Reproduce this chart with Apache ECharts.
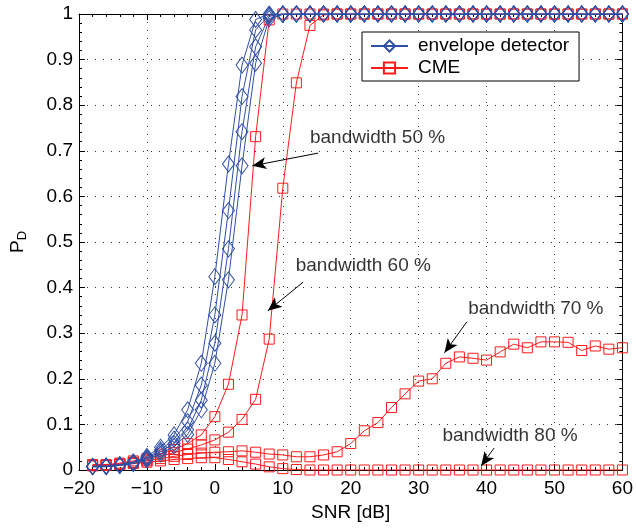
<!DOCTYPE html>
<html>
<head>
<meta charset="utf-8">
<script src="https://cdn.jsdelivr.net/npm/echarts@6/dist/echarts.min.js"></script>
<style>
  html, body { margin: 0; padding: 0; background: #fff; }
  #main { width: 636px; height: 529px; }
</style>
</head>
<body>
<div id="main"></div>
<script>
// SNR [dB] sample points
const snr = [-18, -16, -14, -12, -10, -8, -6, -4, -2, 0, 2, 4, 6, 8, 10, 12, 14, 16, 18, 20,
  22, 24, 26, 28, 30, 32, 34, 36, 38, 40, 42, 44, 46, 48, 50, 52, 54, 56, 58, 60];

// envelope detector, one curve per bandwidth
const env1 = [0.008, 0.009, 0.012, 0.018, 0.030, 0.050, 0.077, 0.132, 0.234, 0.424, 0.671, 0.888, 0.988, 1,
  1, 1, 1, 1, 1, 1, 1, 1, 1, 1, 1, 1, 1, 1, 1, 1, 1, 1, 1, 1, 1, 1, 1, 1, 1, 1];
const env2 = [0.008, 0.008, 0.011, 0.016, 0.027, 0.044, 0.068, 0.106, 0.186, 0.340, 0.569, 0.819, 0.965, 0.998,
  1, 1, 1, 1, 1, 1, 1, 1, 1, 1, 1, 1, 1, 1, 1, 1, 1, 1, 1, 1, 1, 1, 1, 1, 1, 1];
const env3 = [0.007, 0.008, 0.010, 0.015, 0.025, 0.040, 0.058, 0.088, 0.153, 0.278, 0.485, 0.742, 0.928, 0.995,
  1, 1, 1, 1, 1, 1, 1, 1, 1, 1, 1, 1, 1, 1, 1, 1, 1, 1, 1, 1, 1, 1, 1, 1, 1, 1];
const env4 = [0.007, 0.007, 0.010, 0.014, 0.022, 0.035, 0.052, 0.078, 0.132, 0.234, 0.417, 0.667, 0.892, 0.990,
  0.999, 1, 1, 1, 1, 1, 1, 1, 1, 1, 1, 1, 1, 1, 1, 1, 1, 1, 1, 1, 1, 1, 1, 1, 1, 1];

// CME, bandwidth 50 / 60 / 70 / 80 %
const cme50 = [0.012, 0.012, 0.015, 0.020, 0.025, 0.035, 0.045, 0.058, 0.077, 0.117, 0.188, 0.340, 0.731, 0.987,
  1, 1, 1, 1, 1, 1, 1, 1, 1, 1, 1, 1, 1, 1, 1, 1, 1, 1, 1, 1, 1, 1, 1, 1, 1, 1];
const cme60 = [0.010, 0.011, 0.013, 0.017, 0.022, 0.030, 0.038, 0.046, 0.055, 0.066, 0.083, 0.111, 0.155, 0.287,
  0.618, 0.849, 0.975, 0.998, 1, 1, 1, 1, 1, 1, 1, 1, 1, 1, 1, 1, 1, 1, 1, 1, 1, 1, 1, 1, 1, 1];
const cme70 = [0.010, 0.011, 0.013, 0.016, 0.020, 0.025, 0.030, 0.034, 0.037, 0.039,
  0.040, 0.042, 0.039, 0.035, 0.033, 0.029, 0.029, 0.033, 0.040, 0.058,
  0.086, 0.104, 0.137, 0.167, 0.195, 0.200, 0.234, 0.248, 0.245, 0.241,
  0.259, 0.276, 0.268, 0.281, 0.281, 0.280, 0.262, 0.272, 0.265, 0.268];
const cme80 = [0.009, 0.010, 0.012, 0.014, 0.017, 0.020, 0.023, 0.025, 0.027, 0.027, 0.023, 0.018, 0.013, 0.007,
  0.003, 0.001, 0, 0, 0, 0, 0, 0, 0, 0, 0, 0, 0, 0, 0, 0, 0, 0, 0, 0, 0, 0, 0, 0, 0, 0];

const noteTexts = ['bandwidth 50 %', 'bandwidth 60 %', 'bandwidth 70 %', 'bandwidth 80 %'];

const FONT = 'Liberation Sans, Arial, Helvetica, sans-serif';
const FS = 19;
const BLUE = '#2f4fa6';
const RED = '#ff1a1a';

function pairs(ys) {
  return snr.map((x, i) => [x, ys[i]]);
}

function envSeries(ys) {
  return {
    name: 'envelope detector',
    type: 'line',
    data: pairs(ys),
    symbol: 'diamond',
    symbolSize: [12, 16],
    showAllSymbol: true,
    lineStyle: {color: BLUE, width: 1},
    itemStyle: {color: 'rgba(255,255,255,0)', borderColor: BLUE, borderWidth: 1},
    emphasis: {disabled: true},
    z: 3
  };
}

function cmeSeries(ys) {
  return {
    name: 'CME',
    type: 'line',
    data: pairs(ys),
    symbol: 'rect',
    symbolSize: 10,
    showAllSymbol: true,
    lineStyle: {color: RED, width: 1},
    itemStyle: {color: 'rgba(255,255,255,0)', borderColor: RED, borderWidth: 1},
    emphasis: {disabled: true},
    z: 2
  };
}

// annotation text anchors and arrows, in data units
const noteAt = [[14.0, 0.728], [11.9, 0.447], [37.3, 0.353], [33.5, 0.075]];
const arrows = [
  [[15.2, 0.695], [5.5, 0.667]],
  [[13.0, 0.412], [7.8, 0.349]],
  [[37.1, 0.325], [33.8, 0.257]],
  [[41.1, 0.048], [39.2, 0.009]]
];

const chart = echarts.init(document.getElementById('main'), null, {renderer: 'canvas'});

const gridLine = {show: true, lineStyle: {color: '#333', width: 1, type: [1, 7]}};
const tickStyle = {show: true, inside: true, length: 6, lineStyle: {color: '#000'}};
const minor = {show: true, splitNumber: 5, length: 3, lineStyle: {color: '#000'}};

const option = {
  animation: false,
  backgroundColor: '#fff',
  textStyle: {fontFamily: FONT},
  grid: {left: 78, right: 12, top: 14, bottom: 59, show: false},
  legend: {
    data: ['envelope detector', 'CME'],
    orient: 'vertical',
    left: 362,
    top: 32,
    padding: [4, 10, 3, 8],
    itemGap: 2,
    itemWidth: 37,
    itemHeight: 14,
    backgroundColor: '#fff',
    borderColor: '#000',
    borderWidth: 1,
    borderRadius: 0,
    textStyle: {fontSize: FS, lineHeight: 20, color: '#000', fontFamily: FONT, padding: [0, 0, 0, 5]},
    selectedMode: false
  },
  xAxis: [
    {
      type: 'value', min: -20, max: 60, interval: 10,
      name: 'SNR [dB]', nameLocation: 'middle', nameGap: 33,
      nameTextStyle: {fontSize: FS, color: '#000', fontFamily: FONT},
      axisLine: {show: true, onZero: false, lineStyle: {color: '#000', width: 1}},
      axisTick: tickStyle, minorTick: minor,
      axisLabel: {fontSize: FS, color: '#000', margin: 9, fontFamily: FONT,
        formatter: v => (v < 0 ? '\u2212' + Math.abs(v) : String(v))},
      splitLine: gridLine
    },
    {
      type: 'value', min: -20, max: 60, interval: 10, position: 'top',
      axisLine: {show: true, onZero: false, lineStyle: {color: '#000', width: 1}},
      axisTick: tickStyle, minorTick: minor,
      axisLabel: {show: false}, splitLine: {show: false}
    }
  ],
  yAxis: [
    {
      type: 'value', min: 0, max: 1, interval: 0.1,
      name: '{p|P}{d|D}', nameLocation: 'middle', nameGap: 50, nameRotate: 90,
      nameTextStyle: {
        color: '#000', fontFamily: FONT,
        rich: {
          p: {fontSize: FS, fontFamily: FONT, color: '#000'},
          d: {fontSize: 13, fontFamily: FONT, color: '#000', padding: [10, 0, 0, 0]}
        }
      },
      axisLine: {show: true, onZero: false, lineStyle: {color: '#000', width: 1}},
      axisTick: tickStyle, minorTick: minor,
      axisLabel: {fontSize: FS, color: '#000', margin: 6, fontFamily: FONT},
      splitLine: gridLine
    },
    {
      type: 'value', min: 0, max: 1, interval: 0.1, position: 'right',
      axisLine: {show: true, onZero: false, lineStyle: {color: '#000', width: 1}},
      axisTick: tickStyle, minorTick: minor,
      axisLabel: {show: false}, splitLine: {show: false}
    }
  ],
  series: [
    cmeSeries(cme80),
    cmeSeries(cme70),
    cmeSeries(cme60),
    cmeSeries(cme50),
    envSeries(env4),
    envSeries(env3),
    envSeries(env2),
    envSeries(env1),
    {
      name: 'notes',
      type: 'scatter',
      data: noteAt.map((p, i) => [p[0], p[1], noteTexts[i]]),
      symbolSize: 0,
      silent: true,
      label: {
        show: true, position: 'right', distance: 0,
        formatter: p => p.data[2],
        fontSize: FS, color: '#000', fontFamily: FONT
      },
      markLine: {
        silent: true,
        symbol: ['none', 'arrow'],
        symbolSize: [9, 14],
        label: {show: false},
        lineStyle: {color: '#000', width: 1, type: 'solid'},
        data: arrows.map(a => [{coord: a[0]}, {coord: a[1]}])
      },
      z: 5
    }
  ]
};

chart.setOption(option);
</script>
</body>
</html>
